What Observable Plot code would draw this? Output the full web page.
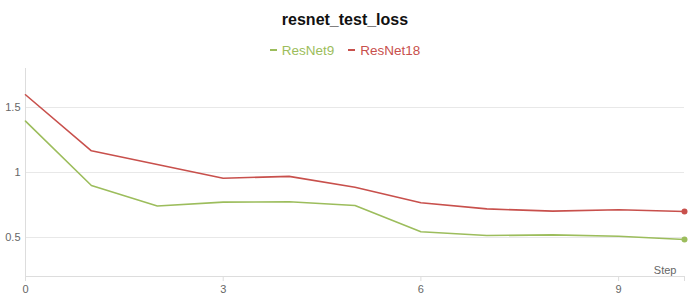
<!DOCTYPE html>
<html>
<head>
<meta charset="utf-8">
<script src="https://cdn.jsdelivr.net/npm/d3@7"></script>
<script src="https://cdn.jsdelivr.net/npm/@observablehq/plot@0.6"></script>
<style>
  body { margin: 0; background: #fff; font-family: "Liberation Sans", Arial, sans-serif; }
  #wrap { width: 690px; height: 300px; position: relative; }
  #title { height: 40px; line-height: 40px; text-align: center; font-weight: bold; font-size: 16px; color: #111; }
  #legend { height: 21px; line-height: 21px; text-align: center; font-size: 13.5px; }
  #legend .item { margin: 0 7px; }
  #legend .mk { display: inline-block; width: 7px; height: 2px; vertical-align: middle; margin-right: 5px; position: relative; top: -1px; }
  svg { display: block; }
</style>
</head>
<body>
<div id="wrap">
  <div id="title">resnet_test_loss</div>
  <div id="legend"></div>
  <div id="chart"></div>
</div>
<script>
const steps = [0, 1, 2, 3, 4, 5, 6, 7, 8, 9, 10];
const resnet9 = [1.395, 0.90, 0.742, 0.772, 0.775, 0.746, 0.544, 0.515, 0.52, 0.51, 0.485];
const resnet18 = [1.598, 1.167, 1.062, 0.956, 0.97, 0.887, 0.767, 0.72, 0.703, 0.713, 0.70];
const seriesNames = ["ResNet9", "ResNet18"];
const seriesColors = ["#9cbd5c", "#c8504c"];
const yTicks = [0.5, 1, 1.5];
const xTicks = [0, 3, 6, 9];

const data = [];
steps.forEach((s, i) => {
  data.push({step: s, value: resnet9[i], series: seriesNames[0]});
  data.push({step: s, value: resnet18[i], series: seriesNames[1]});
});
const lastStep = steps[steps.length - 1];
const lastPts = data.filter(d => d.step === lastStep);

const legend = document.getElementById("legend");
seriesNames.forEach((n, i) => {
  const sp = document.createElement("span");
  sp.className = "item";
  sp.style.color = seriesColors[i];
  const mk = document.createElement("span");
  mk.className = "mk";
  mk.style.background = seriesColors[i];
  sp.appendChild(mk);
  sp.appendChild(document.createTextNode(n));
  legend.appendChild(sp);
});

const chart = Plot.plot({
  width: 690,
  height: 239,
  marginTop: 7,
  marginBottom: 24,
  marginLeft: 25,
  marginRight: 6,
  style: {fontFamily: "Liberation Sans, Arial, sans-serif", fontSize: "11px", color: "#666", background: "#fff"},
  x: {domain: [0, 10]},
  y: {domain: [0.2, 1.8]},
  color: {domain: seriesNames, range: seriesColors},
  marks: [
    Plot.gridY(yTicks, {stroke: "#e8e8e8", strokeOpacity: 1}),
    Plot.ruleX([0], {stroke: "#ddd"}),
    Plot.ruleY([0.2], {stroke: "#ddd"}),
    Plot.axisY(yTicks, {tickSize: 0, tickPadding: 5, label: null, fill: "#666", tickFormat: d => String(d)}),
    Plot.axisX([...xTicks, lastStep], {tickSize: 5, stroke: "#ddd", tickPadding: 4, label: null, fill: "#666", tickFormat: d => xTicks.includes(d) ? String(d) : ""}),
    Plot.line(data, {x: "step", y: "value", z: "series", stroke: "series", strokeWidth: 1.6}),
    Plot.dot(lastPts, {x: "step", y: "value", fill: "series", r: 3}),
    Plot.text(["Step"], {frameAnchor: "bottom-right", dx: -8, dy: -3, fill: "#666", fontSize: 11})
  ]
});
document.getElementById("chart").appendChild(chart);
</script>
</body>
</html>
